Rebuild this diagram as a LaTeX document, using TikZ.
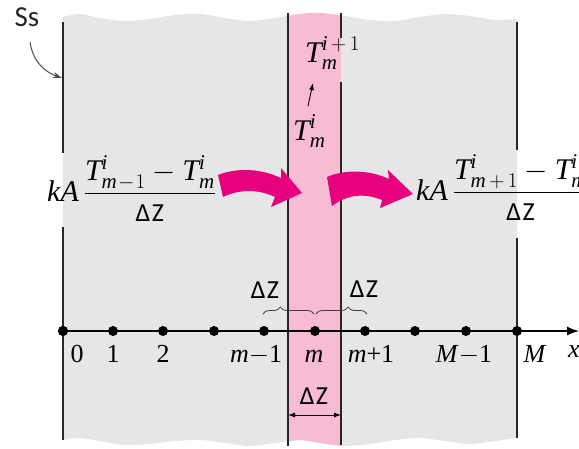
\RequirePackage{fix-cm}
\documentclass[tikz,border=0pt]{standalone}
\usepackage{amsmath}
\usepackage{fontspec}
\setmainfont{Liberation Serif}
\newfontfamily\carl{Carlito}
\usetikzlibrary{arrows.meta,decorations.pathreplacing}
\definecolor{graybg}{RGB}{230,230,230}
\definecolor{pinkbg}{RGB}{247,187,212}
\definecolor{magarr}{RGB}{230,0,126}
\newcommand{\mi}[1]{\textit{#1}}
\newcommand{\dZtxt}{Δ\kern1.5pt Z}
\newcommand{\dZ}{\text{\carl\fontsize{26}{28}\selectfont\dZtxt}}
\newcommand{\smin}{\mskip1mu{-}\mskip1mu}
\newcommand{\splus}{\mskip3mu{+}\mskip3mu}
\tikzset{
  mathlbl/.style={font=\fontsize{30}{32}\selectfont, inner sep=0pt},
  axlbl/.style={font=\fontsize{26}{28}\selectfont, anchor=base, inner sep=0pt},
  dzlbl/.style={font=\carl\fontsize{26}{28}\selectfont, inner sep=0pt},
  dotnode/.style={circle, fill=black, inner sep=0pt, minimum size=10pt},
  vline/.style={line width=1.1pt, black!85},
  brc/.style={decorate, decoration={brace, amplitude=7pt, aspect=#1}, line width=0.8pt, black!75},
}
\def\blobpath{plot[smooth] coordinates {(63,17) (80,14) (100,18) (125,21) (150,19) (175,15) (200,14) (225,18) (250,21) (275,18) (300,14) (320,13) (345,16) (370,20) (395,21) (420,17) (445,14) (470,16) (495,20) (517,19)}
  -- plot[smooth] coordinates {(517,438) (495,441) (470,444) (445,441) (420,438) (395,440) (370,444) (345,446) (320,443) (300,440) (275,443) (250,446) (225,443) (200,440) (175,441) (150,444) (125,445) (100,441) (80,438) (63,440)} -- cycle}
\begin{document}
\begin{tikzpicture}[x=1pt,y=-1pt]
\useasboundingbox (0,0) rectangle (579,448);
\clip (0,0) rectangle (579,448);
% backgrounds
\fill[graybg] \blobpath;
\begin{scope}
  \clip \blobpath;
  \fill[pinkbg] (288,0) rectangle (341,448);
\end{scope}
% vertical lines
\draw[vline] (63,22) -- (63,153) (63,227) -- (63,440);
\draw[vline] (517,22) -- (517,150) (517,238) -- (517,438);
\draw[vline] (288,13) -- (288,446);
\draw[vline] (341,13) -- (341,38) (341,82) -- (341,445);
% magenta heat-flow arrows
\fill[magarr] (218,175) .. controls (238,167) and (262,169) .. (281,178) -- (281,168) -- (302,193) -- (271,207) -- (275,197) .. controls (258,189) and (240,189) .. (223,197) -- cycle;
\fill[magarr] (327,177) .. controls (345,169) and (370,170) .. (389,179) -- (388,170) -- (413,194) -- (380,208) -- (382,200) .. controls (365,193) and (348,194) .. (332,206) -- cycle;
% fractions
\node[mathlbl, anchor=base west] (fl) at (47,201) {$\mi{kA}\,\dfrac{\mi{T}^{\mi{i}}_{\mi{m}\smin 1}-\mi{T}^{\mi{i}}_{\mi{m}}}{\dZ}$};
\node[mathlbl, anchor=base west] (fr) at (416,200) {$\mi{kA}\,\dfrac{\mi{T}^{\mi{i}}_{\mi{m}\splus 1}-\mi{T}^{\mi{i}}_{\mi{m}}}{\dZ}$};
% temperatures in strip
\node[mathlbl, anchor=base west] (tnext) at (305,62) {$\mi{T}^{\mi{i}\splus 1}_{\mi{m}}$};
\node[mathlbl, anchor=base west] (tcur) at (293,140) {$\mi{T}^{\mi{i}}_{\mi{m}}$};
\coordinate (ta) at (308,106);
\coordinate (tb) at (313,83);
\draw[line width=0.9pt, -{Latex[length=7pt,width=5pt]}] (ta) -- (tb);
% Ss label
\node[font=\carl\fontsize{29}{30}\selectfont, text=black!85, inner sep=0pt] (ss) at (27,17) {Ss};
\coordinate (sstail) at (30,42);
\coordinate (sshead) at (62,78);
\draw[black!70, line width=1pt, -{Stealth[length=9pt,width=6pt]}] (sstail) .. controls (33,62) and (45,72) .. (sshead);
% axis
\coordinate (xend) at (579,331);
\node[dotnode] (d0) at (63,331) {};
\draw[line width=1.3pt, -{Latex[length=12pt,width=9pt]}] (d0.center) -- (xend);
\foreach \i/\xx in {0/63,1/113,2/163,3/214,4/264,5/315,6/365,7/415,8/466,9/517}{
  \node[dotnode] (p\i) at (\xx,331) {};
}
\node[axlbl] (l0) at (77,362) {0};
\node[axlbl] (l1) at (113,362) {1};
\node[axlbl] (l2) at (163,362) {2};
\node[axlbl] (lm1) at (256,362) {\mi{m}$-$1};
\node[axlbl] (lm) at (314,362) {\mi{m}};
\node[axlbl] (lmp) at (371,362) {\mi{m}+1};
\node[axlbl] (lM1) at (464,362) {\mi{M}$-$1};
\node[axlbl] (lM) at (535,362) {\mi{M}};
\node[axlbl, anchor=base west] (lx) at (568,357) {\mi{x}};
% braces
\coordinate (b1s) at (263,314);
\coordinate (b1e) at (314,314);
\coordinate (b2s) at (316,314);
\coordinate (b2e) at (367,314);
\draw[brc=0.34] (b1s) -- (b1e);
\draw[brc=0.63] (b2s) -- (b2e);
\node[dzlbl] (dz1) at (265,290) {\dZtxt};
\node[dzlbl] (dz2) at (364,289) {\dZtxt};
% strip width
\node[dzlbl] (dz3) at (314,396) {\dZtxt};
\coordinate (wl) at (288,415);
\coordinate (wr) at (341,415);
\draw[line width=0.9pt, {Latex[length=7pt,width=5pt]}-{Latex[length=7pt,width=5pt]}] (wl) -- (wr);
\end{tikzpicture}
\end{document}
